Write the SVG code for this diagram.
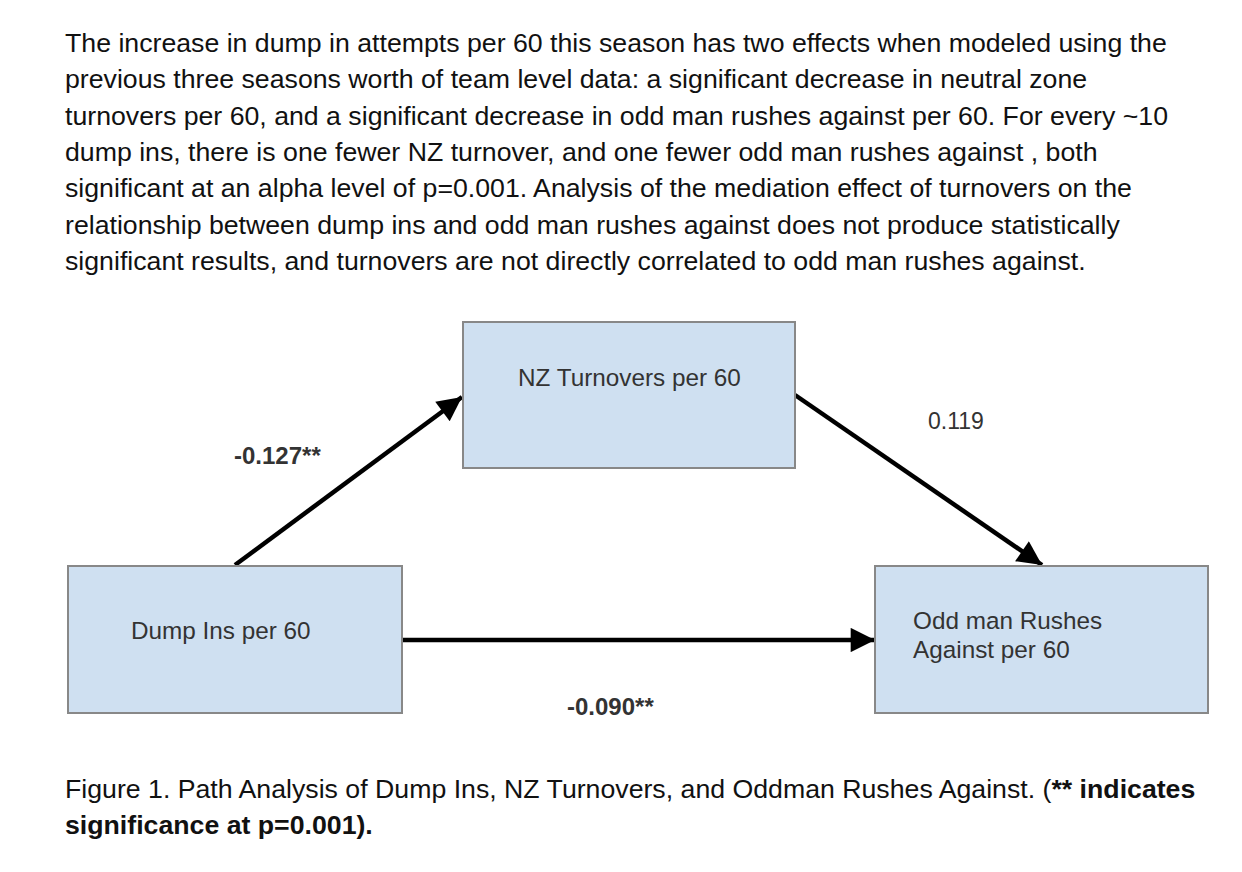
<svg xmlns="http://www.w3.org/2000/svg" width="1242" height="872" viewBox="0 0 1242 872">
<style>
.para{font-family:"Liberation Sans",Arial,sans-serif;font-size:26.7px;fill:#111}
.node rect{fill:#cfe0f1;stroke:#888;stroke-width:2}
.node text{font-family:"Liberation Sans",Arial,sans-serif;font-size:24.3px;fill:#333}
.lbl{font-family:"Liberation Sans",Arial,sans-serif;font-size:24px;fill:#333}
.lbl.n{font-size:23px}
.b{font-weight:bold}
.conn line{stroke:#000;stroke-width:4.5}
</style>
<defs>
<marker id="ah" viewBox="0 0 10 10" refX="10" refY="5" markerWidth="7.3" markerHeight="5.4" markerUnits="strokeWidth" orient="auto">
<path d="M0,0 L10,5 L0,10 z" fill="#000"/>
</marker>
</defs>
<rect width="1242" height="872" fill="#fff"/>
<g id="paragraph" class="para">
<text x="65" y="52">The increase in dump in attempts per 60 this season has two effects when modeled using the</text>
<text x="65" y="88">previous three seasons worth of team level data: a significant decrease in neutral zone</text>
<text x="65" y="125">turnovers per 60, and a significant decrease in odd man rushes against per 60. For every ~10</text>
<text x="65" y="161">dump ins, there is one fewer NZ turnover, and one fewer odd man rushes against , both</text>
<text x="65" y="197">significant at an alpha level of p=0.001. Analysis of the mediation effect of turnovers on the</text>
<text x="65" y="234">relationship between dump ins and odd man rushes against does not produce statistically</text>
<text x="65" y="270">significant results, and turnovers are not directly correlated to odd man rushes against.</text>
</g>
<g class="conn" id="connectors">
<line x1="235" y1="565" x2="462" y2="397" marker-end="url(#ah)"/>
<line x1="795" y1="395" x2="1042" y2="565" marker-end="url(#ah)"/>
<line x1="402" y1="640" x2="875" y2="640" marker-end="url(#ah)"/>
</g>
<g id="node-nz" class="node">
<rect x="463" y="322" width="332" height="146"/>
<text x="518" y="386">NZ Turnovers per 60</text>
</g>
<g id="node-dump" class="node">
<rect x="68" y="566" width="334" height="147"/>
<text x="131" y="639">Dump Ins per 60</text>
</g>
<g id="node-odd" class="node">
<rect x="875" y="566" width="333" height="147"/>
<text x="913" y="629">Odd man Rushes</text>
<text x="913" y="658">Against per 60</text>
</g>
<g id="labels">
<text class="lbl b" x="234" y="464">-0.127**</text>
<text class="lbl n" x="928" y="429">0.119</text>
<text class="lbl b" x="567" y="715">-0.090**</text>
</g>
<g id="caption" class="para">
<text x="65" y="798">Figure 1. Path Analysis of Dump Ins, NZ Turnovers, and Oddman Rushes Against. (<tspan class="b">** indicates</tspan></text>
<text x="65" y="834" class="b">significance at p=0.001).</text>
</g>
</svg>
